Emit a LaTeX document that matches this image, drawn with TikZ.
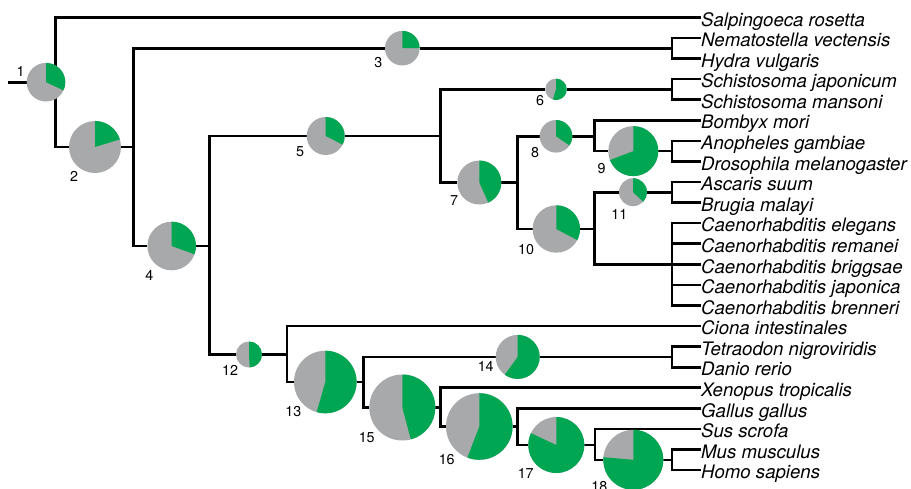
\documentclass[tikz,border=0pt]{standalone}
\usepackage{fontspec}
\setmainfont{TeX Gyre Heros}
\definecolor{piegreen}{HTML}{00A651}
\definecolor{piegrey}{HTML}{A8A9AB}
\pgfdeclarelayer{background}
\pgfsetlayers{background,main}

% ancestral-state pie: name, x, y, radius, sweep of the green share (degrees, clockwise from top)
\newcommand{\ancpie}[5]{%
  \node[pienode, minimum size={2*#4pt}] (#1) at (#2,#3) {};
  \fill[piegreen] (#1.center) -- ++(90:#4) arc[start angle=90, delta angle=-#5, radius=#4] -- cycle;
}

\begin{document}
\begin{tikzpicture}[x=1pt, y=1pt,
  pienode/.style={circle, fill=piegrey, draw=none, inner sep=0pt, outer sep=0pt},
  taxon/.style={anchor=west, inner sep=0pt, text height=17.4pt, text depth=0pt,
                font=\fontsize{18.6}{20}\selectfont\itshape},
  numlabel/.style={inner sep=0pt, font=\fontsize{14.3}{16}\selectfont},
  branch/.style={line width=2.6pt, black}]
\useasboundingbox (0,0) rectangle (911,-488);

% taxa
\node[taxon] (L0)  at (701,-17.3)  {Salpingoeca rosetta};
\node[taxon] (L1)  at (701,-37.9)  {Nematostella vectensis};
\node[taxon] (L2)  at (701,-58.5)  {Hydra vulgaris};
\node[taxon] (L3)  at (701,-79.0)  {Schistosoma japonicum};
\node[taxon] (L4)  at (701,-99.6)  {Schistosoma mansoni};
\node[taxon] (L5)  at (701,-120.2) {Bombyx mori};
\node[taxon] (L6)  at (701,-140.8) {Anopheles gambiae};
\node[taxon] (L7)  at (701,-161.4) {Drosophila melanogaster};
\node[taxon] (L8)  at (701,-181.9) {Ascaris suum};
\node[taxon] (L9)  at (701,-202.5) {Brugia malayi};
\node[taxon] (L10) at (701,-223.1) {Caenorhabditis elegans};
\node[taxon] (L11) at (701,-243.7) {Caenorhabditis remanei};
\node[taxon] (L12) at (701,-264.3) {Caenorhabditis briggsae};
\node[taxon] (L13) at (701,-284.8) {Caenorhabditis japonica};
\node[taxon] (L14) at (701,-305.4) {Caenorhabditis brenneri};
\node[taxon] (L15) at (701,-326.0) {Ciona intestinales};
\node[taxon] (L16) at (701,-346.6) {Tetraodon nigroviridis};
\node[taxon] (L17) at (701,-367.2) {Danio rerio};
\node[taxon] (L18) at (701,-387.7) {Xenopus tropicalis};
\node[taxon] (L19) at (701,-408.3) {Gallus gallus};
\node[taxon] (L20) at (701,-428.9) {Sus scrofa};
\node[taxon] (L21) at (701,-449.5) {Mus musculus};
\node[taxon] (L22) at (701,-470.1) {Homo sapiens};

% ancestral nodes
\ancpie{n1}{46}{-82.2}{19.3}{115}
\ancpie{n2}{95}{-147}{26}{73}
\ancpie{n3}{402.3}{-48.2}{17.3}{90}
\ancpie{n4}{171.7}{-246}{24.3}{110}
\ancpie{n5}{325.7}{-136}{19}{117}
\ancpie{n6}{556}{-89.3}{10.7}{197}
\ancpie{n7}{479.3}{-182.5}{22}{156}
\ancpie{n8}{556}{-136.3}{16.3}{124}
\ancpie{n9}{633.3}{-151.1}{25}{249}
\ancpie{n10}{556.3}{-229}{23.7}{118}
\ancpie{n11}{633}{-192.2}{14}{133}
\ancpie{n12}{249}{-354.5}{13}{177}
\ancpie{n13}{325.3}{-382}{31.3}{196}
\ancpie{n14}{517.7}{-356.9}{22}{216}
\ancpie{n15}{402.3}{-407.5}{33}{165}
\ancpie{n16}{479.3}{-426.5}{33.3}{201}
\ancpie{n17}{556.3}{-445}{28}{295}
\ancpie{n18}{633.3}{-459.8}{30}{275}

% node numbers
\node[numlabel] (t1)  at (20.7,-71.7)  {1};
\node[numlabel] (t2)  at (74,-176.7)   {2};
\node[numlabel] (t3)  at (378.3,-62.3) {3};
\node[numlabel] (t4)  at (149.3,-275)  {4};
\node[numlabel] (t5)  at (300,-151.7)  {5};
\node[numlabel] (t6)  at (540,-100.7)  {6};
\node[numlabel] (t7)  at (454,-201)    {7};
\node[numlabel] (t8)  at (535,-152.7)  {8};
\node[numlabel] (t9)  at (601.7,-168.3) {9};
\node[numlabel] (t10) at (526,-250)    {10};
\node[numlabel] (t11) at (619.3,-214.3) {11};
\node[numlabel] (t12) at (230,-370)    {12};
\node[numlabel] (t13) at (293.3,-411.7) {13};
\node[numlabel] (t14) at (485.7,-366.7) {14};
\node[numlabel] (t15) at (366.7,-437.7) {15};
\node[numlabel] (t16) at (446.7,-459.3) {16};
\node[numlabel] (t17) at (525.7,-473.3) {17};
\node[numlabel] (t18) at (599.3,-486.7) {18};

% branch junctions
\coordinate (r0)  at (8,-82.2);
\coordinate (j1)  at (55.7,-82.2);
\coordinate (j2)  at (133.3,-147);
\coordinate (c3)  at (672,-48.2);
\coordinate (j4)  at (209.5,-246);
\coordinate (j5)  at (440.7,-136);
\coordinate (c6)  at (672,-89.3);
\coordinate (j7)  at (517.7,-182.5);
\coordinate (j8)  at (594.5,-136.3);
\coordinate (c9)  at (672,-151.1);
\coordinate (j10) at (594.5,-229);
\coordinate (c10) at (672,-264.3);
\coordinate (c11) at (672,-192.2);
\coordinate (j12) at (287,-354.5);
\coordinate (j13) at (363.5,-382);
\coordinate (c14) at (672,-356.9);
\coordinate (j15) at (440.3,-407.5);
\coordinate (j16) at (517.7,-426.5);
\coordinate (j17) at (595,-445);
\coordinate (c18) at (672,-459.8);

\begin{pgfonlayer}{background}
\begin{scope}[branch]
  \draw (r0) -- (n1);
  \draw (j1) |- (L0.west);
  \draw (j1) |- (n2);
  \draw (n2) -- (j2);
  \draw (j2) |- (n3);
  \draw (j2) |- (n4);
  \draw (n3) -- (c3);
  \draw (c3) |- (L1.west);
  \draw (c3) |- (L2.west);
  \draw (n4) -- (j4);
  \draw (j4) |- (n5);
  \draw (j4) |- (n12);
  \draw (n5) -- (j5);
  \draw (j5) |- (n6);
  \draw (j5) |- (n7);
  \draw (n6) -- (c6);
  \draw (c6) |- (L3.west);
  \draw (c6) |- (L4.west);
  \draw (n7) -- (j7);
  \draw (j7) |- (n8);
  \draw (j7) |- (n10);
  \draw (n8) -- (j8);
  \draw (j8) |- (L5.west);
  \draw (j8) |- (n9);
  \draw (n9) -- (c9);
  \draw (c9) |- (L6.west);
  \draw (c9) |- (L7.west);
  \draw (n10) -- (j10);
  \draw (j10) |- (n11);
  \draw (j10) |- (c10);
  \draw (n11) -- (c11);
  \draw (c11) |- (L8.west);
  \draw (c11) |- (L9.west);
  \draw (c10) |- (L10.west);
  \draw (c10) |- (L11.west);
  \draw (c10) -- (L12.west);
  \draw (c10) |- (L13.west);
  \draw (c10) |- (L14.west);
  \draw (n12) -- (j12);
  \draw (j12) |- (L15.west);
  \draw (j12) |- (n13);
  \draw (n13) -- (j13);
  \draw (j13) |- (n14);
  \draw (j13) |- (n15);
  \draw (n14) -- (c14);
  \draw (c14) |- (L16.west);
  \draw (c14) |- (L17.west);
  \draw (n15) -- (j15);
  \draw (j15) |- (L18.west);
  \draw (j15) |- (n16);
  \draw (n16) -- (j16);
  \draw (j16) |- (L19.west);
  \draw (j16) |- (n17);
  \draw (n17) -- (j17);
  \draw (j17) |- (L20.west);
  \draw (j17) |- (n18);
  \draw (n18) -- (c18);
  \draw (c18) |- (L21.west);
  \draw (c18) |- (L22.west);
\end{scope}
\end{pgfonlayer}
\end{tikzpicture}
\end{document}
